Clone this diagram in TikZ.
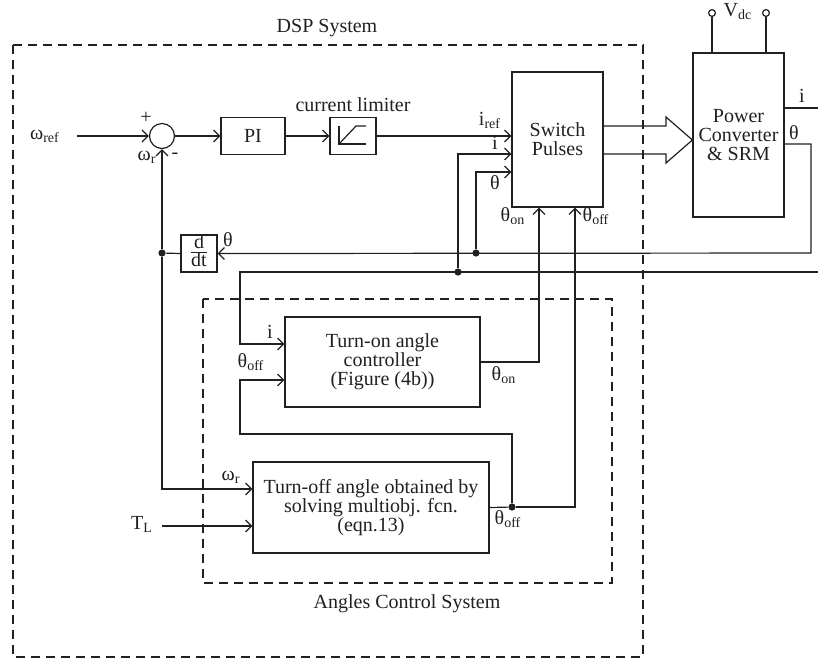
\documentclass[tikz,border=0pt]{standalone}
\usepackage{amsmath}
\usepackage{fontspec}
\setmainfont{Liberation Serif}
\usetikzlibrary{positioning, arrows.meta, calc}
\definecolor{inkcol}{HTML}{231F20}
\tikzset{
  % plain connector
  wire/.style={draw=inkcol, line width=0.6pt},
  % connector with open arrow head
  sig/.style={wire, -{Straight Barb[length=3pt,width=6pt]}},
  % block of the diagram
  blockbox/.style={draw=inkcol, line width=0.6pt, align=center, inner sep=0pt},
  % summing junction
  sumcirc/.style={circle, draw=inkcol, line width=0.6pt, inner sep=0pt, minimum size=12.5pt},
  % branch point
  junc/.style={circle, fill=inkcol, inner sep=0pt, minimum size=3.6pt},
  % supply terminal
  term/.style={circle, draw=inkcol, fill=white, line width=0.6pt, inner sep=0pt, minimum size=3.4pt},
  % dashed system frame
  dashframe/.style={draw=inkcol, line width=0.6pt, dash pattern=on 4.5pt off 3pt},
  lbl/.style={inner sep=0pt},
}

\begin{document}
\begin{tikzpicture}[x=0.5pt, y=-0.5pt,
  every node/.style={font=\fontsize{10}{9.6}\selectfont, text=inkcol}]
  \useasboundingbox (0,0) rectangle (818,661);
  % system frames
  \draw[dashframe] (13,45) rectangle (643,657);
  \node[lbl] (dsplbl) at (327,28) {DSP System};
  \draw[dashframe] (203,299) rectangle (612,583);
  \node[lbl] (acslbl) at (407,604) {Angles Control System};

  % blocks
  \node[sumcirc] (sum) at (162,136) {};
  \node[blockbox, minimum width=32pt, minimum height=18.5pt] (pi) at (253,136) {PI};
  \node[blockbox, minimum width=23pt, minimum height=18.5pt] (lim) at (353,136) {};
  \node[lbl] (limlbl) at (353,105) {current limiter};
  \node[blockbox, minimum width=45.5pt, minimum height=67.5pt] (sw) at (557.5,139.5) {Switch\\Pulses};
  \node[blockbox, minimum width=45.5pt, minimum height=82pt] (pc) at (738.5,135) {Power\\Converter\\\& SRM};
  \node[blockbox, minimum width=18pt, minimum height=18.5pt] (ddt) at (199,253.5)
    {\begin{tabular}{@{}c@{}}d\\[-1.5pt]\hline dt\end{tabular}};
  \node[blockbox, minimum width=97.5pt, minimum height=45pt] (ton) at (382.5,362)
    {Turn-on angle\\controller\\(Figure (4b))};
  \node[blockbox, minimum width=118pt, minimum height=45.5pt] (toff) at (371,507.5)
    {Turn-off angle obtained by\\solving multiobj. fcn.\\(eqn.13)};

  % limiter characteristic
  \draw[wire] ($(lim)+(13,8)$) -- ($(lim)+(-14,8)$) -- ($(lim)+(-14,-10)$);
  \draw[wire] ($(lim)+(-14,8)$) -- ($(lim)+(3,-10)$) -- ($(lim)+(13,-10)$);

  % supply terminals
  \node[term] (vp) at (712,13) {};
  \node[term] (vn) at (766,13) {};
  \node[lbl] (vdc) at (738,12) {V\textsubscript{dc}};
  \draw[wire] (pc.north -| vp) -- (vp);
  \draw[wire] (pc.north -| vn) -- (vn);

  % branch points and free ends
  \node[junc] (jW) at (162,253) {};
  \node[junc] (jT) at (476,253) {};
  \node[junc] (jI) at (458,272) {};
  \node[junc] (jO) at (512,507) {};
  \coordinate (win) at (77,136);
  \coordinate (tlin) at (162,526);
  \coordinate (thcorner) at (811,253);
  \coordinate (iout) at (818,108);
  \coordinate (iedge) at (818,272);
  \coordinate (icorner) at (240,272);

  % speed loop
  \draw[sig] (win) -- (sum);
  \draw[sig] (sum) -- (pi);
  \draw[sig] (pi) -- (lim);
  \draw[sig] (lim) -- (lim -| sw.west);
  \draw[sig] (jI) |- (sw.west |- 0,154);
  \draw[sig] (jT) |- (sw.west |- 0,172);

  % pulses to converter
  \draw[wire] (sw.east |- 0,126) -- (666,126) -- (666,117) -- (pc.west |- 0,140)
    -- (666,163) -- (666,154) -- (sw.east |- 0,154);

  % feedback
  \draw[wire] (pc.east |- 0,108) -- (iout);
  \draw[sig] (pc.east |- 0,144) -| (thcorner) -- (ddt.east);
  \draw[wire] (ddt.west) -- (jW);
  \draw[sig] (jW) -- (sum.south);
  \draw[sig] (jW) |- (toff.west |- 0,489);
  \draw[sig] (tlin) -- (toff.west |- 0,526);
  \draw[sig] (iedge) -- (icorner) |- (ton.west |- 0,344);

  % angle controllers
  \draw[sig] (ton.east) -| (sw.south -| 539,0);
  \draw[wire] (toff.east) -- (jO);
  \draw[sig] (jO) -| (sw.south -| 575,0);
  \draw[sig] (jO) |- (240,434) |- (ton.west |- 0,380);

  % signal labels
  \node[lbl] (wref) at (45,136) {ω\textsubscript{ref}};
  \node[lbl] (plus) at (146,118) {+};
  \node[lbl] (minus) at (175,156) {-};
  \node[lbl] (wr1) at (147,157) {ω\textsubscript{r}};
  \node[lbl] (iref) at (490,120) {i\textsubscript{ref}};
  \node[lbl] (isw) at (495,143) {i};
  \node[lbl] (thsw) at (495,183) {θ};
  \node[lbl] (thon1) at (513,216) {θ\textsubscript{on}};
  \node[lbl] (thoff1) at (596,216) {θ\textsubscript{off}};
  \node[lbl] (ipc) at (802,96) {i};
  \node[lbl] (thpc) at (794,133) {θ};
  \node[lbl] (thdd) at (228,240) {θ};
  \node[lbl] (iton) at (270,332) {i};
  \node[lbl] (thoff2) at (251,362) {θ\textsubscript{off}};
  \node[lbl] (thon2) at (504,375) {θ\textsubscript{on}};
  \node[lbl] (wr2) at (231,477) {ω\textsubscript{r}};
  \node[lbl] (tl) at (142,524) {T\textsubscript{L}};
  \node[lbl] (thoff3) at (508,519) {θ\textsubscript{off}};
\end{tikzpicture}
\end{document}
